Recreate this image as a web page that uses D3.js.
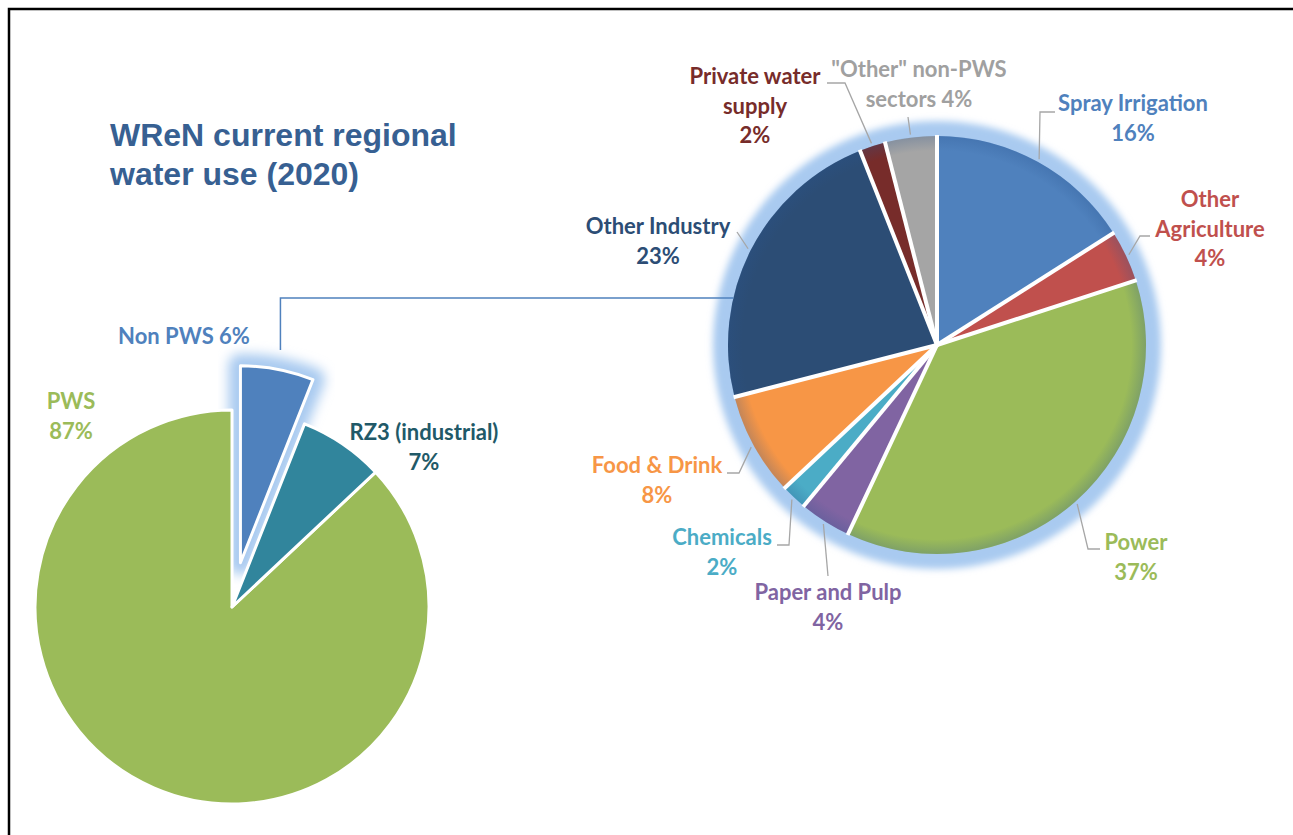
<!DOCTYPE html>
<html>
<head>
<meta charset="utf-8">
<script src="https://cdn.jsdelivr.net/npm/d3@7"></script>
<style>
  body { margin: 0; background: #fff; }
  text { font-family: Lato, "Open Sans", sans-serif; font-weight: 700; }
</style>
</head>
<body>
<svg id="chart" width="1293" height="835"></svg>
<script>
const width = 1293, height = 835;

// --- DATA ---
const regionCategories = ["Non PWS", "RZ3 (industrial)", "PWS"];
const regionValues = [6, 7, 87];
const regionColors = ["#4f81bd", "#31859c", "#9bbb59"];
const regionTextColors = ["#4f81bd", "#215968", "#9bbb59"];

const sectorCategories = ["Spray Irrigation", "Other Agriculture", "Power", "Paper and Pulp",
  "Chemicals", "Food & Drink", "Other Industry", "Private water supply", "\"Other\" non-PWS sectors"];
const sectorValues = [16, 4, 37, 4, 2, 8, 23, 2, 4];
const sectorColors = ["#4f81bd", "#c0504d", "#9bbb59", "#8064a2", "#4bacc6", "#f79646", "#2c4d75", "#772c2a", "#a5a5a5"];
const sectorTextColors = ["#4f81bd", "#c0504d", "#9bbb59", "#8064a2", "#4bacc6", "#f79646", "#2c4d75", "#772c2a", "#a0a0a0"];

const titleLines = ["WReN current regional", "water use (2020)"];

// --- LAYOUT ---
const left = { cx: 232, cy: 607, r: 197, explode: 45 };
const right = { cx: 937, cy: 345, r: 209 };
const lineGap = 29.5;

// label placement: centre x, first baseline, wrapped name lines
const regionLabels = [
  { x: 184, y: 344, lines: ["Non PWS"], inline: true },
  { x: 424, y: 440, lines: ["RZ3 (industrial)"] },
  { x: 71, y: 409, lines: ["PWS"] }
];
const sectorLabels = [
  { x: 1133, y: 111, lines: ["Spray Irrigation"], leader: [[1040, 112], [1055, 112]] },
  { x: 1210, y: 207, lines: ["Other", "Agriculture"], leader: [[1140, 236], [1150, 236]] },
  { x: 1136, y: 550, lines: ["Power"], leader: [[1088, 549], [1100, 549]] },
  { x: 828, y: 600, lines: ["Paper and Pulp"], leader: [[828, 576]] },
  { x: 722, y: 545, lines: ["Chemicals"], leader: [[789, 545], [777, 545]] },
  { x: 657, y: 473, lines: ["Food & Drink"], leader: [[739, 473], [727, 473]] },
  { x: 658, y: 234, lines: ["Other Industry"], leader: [[737, 232]] },
  { x: 755, y: 84, lines: ["Private water", "supply"], leader: [[845, 83], [827, 83]] },
  { x: 919, y: 77, lines: ["\"Other\" non-PWS", "sectors"], inline: true, leader: [[908, 117]] }
];

const svg = d3.select("#chart");

const defs = svg.append("defs");
defs.append("filter").attr("id", "glow")
  .attr("x", "-30%").attr("y", "-30%").attr("width", "160%").attr("height", "160%")
  .append("feGaussianBlur").attr("stdDeviation", 6);
defs.append("filter").attr("id", "glowSmall")
  .attr("x", "-20%").attr("y", "-20%").attr("width", "140%").attr("height", "140%")
  .append("feGaussianBlur").attr("stdDeviation", 3.5);
const edgeGrad = defs.append("radialGradient").attr("id", "edge");
edgeGrad.append("stop").attr("offset", "93%").attr("stop-color", "#2a5590").attr("stop-opacity", 0);
edgeGrad.append("stop").attr("offset", "100%").attr("stop-color", "#2a5590").attr("stop-opacity", 0.25);

// frame
svg.append("rect")
  .attr("x", 9).attr("y", 9)
  .attr("width", width + 20).attr("height", height + 20)
  .attr("fill", "none").attr("stroke", "#000").attr("stroke-width", 2.5);

// title
svg.append("text")
  .attr("x", 110).attr("y", 146)
  .style("font-family", "'Liberation Sans', Arial, sans-serif")
  .style("font-size", "32px")
  .attr("fill", "#376092")
  .selectAll("tspan")
  .data(titleLines)
  .enter()
  .append("tspan")
  .attr("x", 110)
  .attr("dy", (d, i) => i ? 39 : 0)
  .text(d => d);

const pie = d3.pie().sort(null).value(d => d);

// --- LEFT PIE ---
const leftArcs = pie(regionValues);
const leftArc = d3.arc().innerRadius(0).outerRadius(left.r);
const gl = svg.append("g").attr("transform", `translate(${left.cx},${left.cy})`);

const offset = d => {
  if (d.index !== 0) return [0, 0];
  const a = (d.startAngle + d.endAngle) / 2;
  return [Math.sin(a) * left.explode, -Math.cos(a) * left.explode];
};

// glow behind the exploded slice
gl.append("path")
  .attr("d", leftArc(leftArcs[0]))
  .attr("transform", `translate(${offset(leftArcs[0])})`)
  .attr("fill", "#a9caf0")
  .attr("stroke", "#a9caf0")
  .attr("stroke-width", 24)
  .attr("stroke-linejoin", "round")
  .attr("filter", "url(#glow)");

gl.selectAll("path.slice")
  .data(leftArcs.slice().reverse())
  .enter()
  .append("path")
  .attr("class", "slice")
  .attr("d", leftArc)
  .attr("transform", d => `translate(${offset(d)})`)
  .attr("fill", d => regionColors[d.index])
  .attr("stroke", "#fff")
  .attr("stroke-width", 3)
  .attr("stroke-linejoin", "round");

// --- RIGHT PIE ---
const rightArcs = pie(sectorValues);
const rightArc = d3.arc().innerRadius(0).outerRadius(right.r);
const gr = svg.append("g").attr("transform", `translate(${right.cx},${right.cy})`);

gr.append("circle")
  .attr("r", right.r + 15)
  .attr("fill", "#a9caf0")
  .attr("filter", "url(#glowSmall)");

gr.selectAll("path.slice")
  .data(rightArcs)
  .enter()
  .append("path")
  .attr("class", "slice")
  .attr("d", rightArc)
  .attr("fill", d => sectorColors[d.index]);

gr.append("circle")
  .attr("r", right.r)
  .attr("fill", "url(#edge)");

// white separators between slices
gr.selectAll("line.sep")
  .data(rightArcs)
  .enter()
  .append("line")
  .attr("class", "sep")
  .attr("x1", 0).attr("y1", 0)
  .attr("x2", d => Math.sin(d.startAngle) * (right.r + 1))
  .attr("y2", d => -Math.cos(d.startAngle) * (right.r + 1))
  .attr("stroke", "#fff")
  .attr("stroke-width", 4);

// connector from Non PWS to the breakdown pie
const nonPws = offset(leftArcs[0]);
const joinY = 298;
const startX = left.cx + nonPws[0] + 40;
const endX = right.cx - Math.sqrt(right.r * right.r - (joinY - right.cy) ** 2);
svg.append("path")
  .attr("d", d3.line()([[startX, 350], [startX, joinY], [endX, joinY]]))
  .attr("fill", "none")
  .attr("stroke", "#4f81bd")
  .attr("stroke-width", 1.5);

// leader lines
const leaderR = right.r + 3;
svg.append("g")
  .selectAll("path")
  .data(rightArcs)
  .enter()
  .append("path")
  .attr("d", d => {
    const a = (d.startAngle + d.endAngle) / 2;
    const p0 = [right.cx + Math.sin(a) * leaderR, right.cy - Math.cos(a) * leaderR];
    return d3.line()([p0, ...sectorLabels[d.index].leader]);
  })
  .attr("fill", "none")
  .attr("stroke", "#a6a6a6")
  .attr("stroke-width", 1.3);

// --- LABELS ---
function drawLabels(arcs, layout, colors) {
  const t = svg.append("g")
    .selectAll("text")
    .data(arcs)
    .enter()
    .append("text")
    .attr("text-anchor", "middle")
    .attr("fill", d => colors[d.index])
    .style("font-size", "22px");
  t.each(function (d) {
    const L = layout[d.index];
    const pct = d.data + "%";
    const lines = L.inline
      ? [...L.lines.slice(0, -1), L.lines[L.lines.length - 1] + " " + pct]
      : [...L.lines, pct];
    d3.select(this).selectAll("tspan")
      .data(lines)
      .enter()
      .append("tspan")
      .attr("x", L.x)
      .attr("y", (s, i) => L.y + i * lineGap)
      .text(s => s);
  });
}
drawLabels(leftArcs, regionLabels, regionTextColors);
drawLabels(rightArcs, sectorLabels, sectorTextColors);
</script>
</body>
</html>
